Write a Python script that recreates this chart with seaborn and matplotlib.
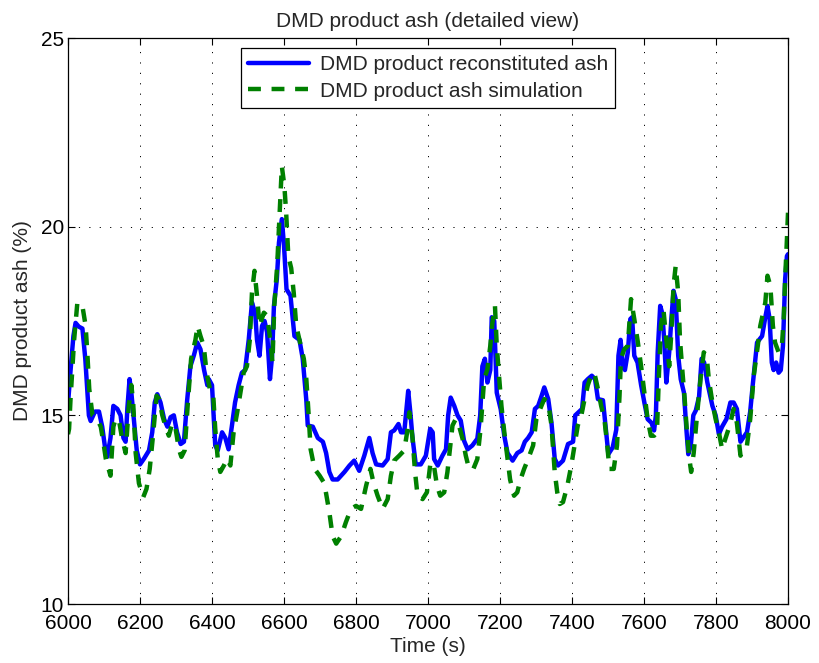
import numpy as np
import pandas as pd
import matplotlib
matplotlib.use("Agg")
import matplotlib.pyplot as plt
import seaborn as sns

# Reconstituted ash (solid blue)
t_recon = [6000, 6008, 6015, 6021, 6030, 6040, 6048, 6054, 6058, 6063, 6075, 6086, 6095, 6105, 6109,
           6118, 6126, 6137, 6146, 6154, 6160, 6165, 6171, 6176, 6183, 6191, 6200, 6211, 6225, 6234,
           6241, 6248, 6257, 6267, 6276, 6285, 6294, 6303, 6313, 6322, 6331, 6340, 6350, 6359, 6368,
           6378, 6387, 6391, 6400, 6409, 6416, 6428, 6437, 6446, 6455, 6464, 6474, 6483, 6492, 6502,
           6511, 6520, 6525, 6532, 6539, 6546, 6553, 6561, 6567, 6572, 6580, 6586, 6594, 6600, 6607,
           6618, 6629, 6643, 6652, 6662, 6666, 6680, 6694, 6708, 6717, 6726, 6735, 6749, 6768, 6782,
           6795, 6809, 6823, 6837, 6846, 6856, 6874, 6888, 6897, 6906, 6918, 6925, 6934, 6941, 6945,
           6951, 6957, 6966, 6980, 6994, 7006, 7013, 7017, 7027, 7040, 7050, 7056, 7063, 7073, 7082,
           7091, 7100, 7110, 7123, 7137, 7145, 7151, 7158, 7165, 7173, 7177, 7184, 7191, 7202, 7212,
           7221, 7235, 7248, 7260, 7269, 7278, 7288, 7297, 7306, 7315, 7323, 7334, 7343, 7352, 7361,
           7375, 7389, 7403, 7409, 7418, 7428, 7435, 7444, 7455, 7464, 7472, 7486, 7495, 7501, 7513,
           7523, 7529, 7535, 7541, 7547, 7555, 7562, 7567, 7573, 7582, 7592, 7601, 7610, 7621, 7628,
           7633, 7638, 7645, 7651, 7656, 7662, 7670, 7676, 7682, 7688, 7695, 7702, 7711, 7718, 7723,
           7730, 7737, 7744, 7753, 7760, 7767, 7776, 7790, 7799, 7808, 7817, 7829, 7840, 7849, 7858,
           7868, 7875, 7886, 7895, 7902, 7914, 7928, 7937, 7943, 7949, 7955, 7960, 7967, 7974, 7980,
           7986, 7992, 7997, 8000]
ash_recon = [15.3, 16.3, 17.1, 17.45, 17.35, 17.3, 16.5, 15.6, 15.0, 14.85, 15.1, 15.1, 14.7, 14.0, 13.9,
             14.4, 15.25, 15.17, 15.0, 14.4, 14.3, 15.2, 15.96, 15.6, 14.9, 14.07, 13.7, 13.85, 14.07, 14.55,
             15.34, 15.56, 15.34, 14.9, 14.7, 14.95, 15.0, 14.55, 14.24, 14.3, 15.4, 16.3, 16.6, 16.93, 16.75,
             16.2, 15.8, 15.96, 15.8, 14.2, 14.07, 14.55, 14.4, 14.1, 14.7, 15.34, 15.8, 16.13, 16.2, 17.0,
             17.99, 17.7, 17.0, 16.58, 17.37, 17.5, 17.2, 15.96, 16.58, 17.9, 18.6, 19.58, 20.2, 19.5, 18.34,
             18.17, 17.1, 17.0, 16.5, 15.4, 14.73, 14.7, 14.4, 14.3, 14.0, 13.5, 13.3, 13.3, 13.5, 13.67,
             13.8, 13.53, 13.93, 14.4, 14.0, 13.7, 13.67, 13.84, 14.55, 14.6, 14.77, 14.55, 14.55, 15.25, 15.65,
             15.07, 14.4, 13.7, 13.7, 13.93, 14.64, 14.55, 13.84, 13.67, 13.93, 14.1, 15.0, 15.47, 15.25, 15.0,
             14.86, 14.33, 14.1, 14.2, 14.38, 15.0, 16.3, 16.5, 15.87, 16.2, 17.6, 17.5, 15.6, 15.16, 14.45,
             14.0, 13.8, 14.0, 14.07, 14.3, 14.4, 14.55, 15.17, 15.25, 15.5, 15.74, 15.43, 14.8, 13.85, 13.67,
             13.8, 14.24, 14.3, 15.0, 15.08, 15.17, 15.87, 15.96, 16.05, 15.96, 15.43, 15.4, 14.55, 13.97, 14.15,
             14.62, 16.58, 17.0, 16.3, 16.2, 16.67, 17.55, 17.6, 16.58, 16.4, 15.8, 15.34, 14.9, 14.8, 14.6,
             15.0, 16.67, 17.9, 17.7, 17.0, 15.87, 16.67, 17.55, 18.3, 18.08, 16.58, 15.96, 15.6, 14.6, 13.97,
             14.2, 15.0, 15.13, 15.5, 16.5, 16.4, 15.87, 15.25, 15.0, 14.5, 14.7, 14.9, 15.34, 15.34, 15.17,
             14.3, 14.4, 14.55, 15.1, 15.8, 16.93, 17.1, 17.6, 17.9, 17.55, 16.4, 16.2, 16.4, 16.13, 16.2,
             16.84, 18.6, 19.22, 19.27]

# Simulated ash (dashed green)
t_sim = [6000, 6003, 6007, 6017, 6026, 6040, 6049, 6054, 6059, 6068, 6081, 6091, 6098, 6105, 6118,
         6126, 6132, 6141, 6150, 6160, 6169, 6176, 6181, 6188, 6197, 6209, 6218, 6227, 6237, 6246,
         6253, 6262, 6271, 6280, 6290, 6299, 6308, 6315, 6324, 6333, 6342, 6354, 6360, 6368, 6377,
         6385, 6394, 6403, 6409, 6416, 6423, 6433, 6442, 6451, 6460, 6470, 6479, 6488, 6497, 6505,
         6511, 6518, 6525, 6532, 6544, 6553, 6562, 6568, 6573, 6581, 6588, 6594, 6601, 6606, 6612,
         6620, 6627, 6634, 6643, 6655, 6662, 6668, 6674, 6685, 6699, 6712, 6726, 6735, 6745, 6759,
         6772, 6786, 6800, 6814, 6828, 6840, 6849, 6860, 6874, 6888, 6897, 6906, 6920, 6934, 6942,
         6948, 6957, 6964, 6971, 6985, 6997, 7006, 7015, 7025, 7034, 7045, 7054, 7062, 7068, 7077,
         7086, 7096, 7105, 7114, 7126, 7137, 7146, 7156, 7165, 7173, 7179, 7186, 7191, 7198, 7204,
         7212, 7219, 7228, 7239, 7248, 7257, 7267, 7278, 7292, 7301, 7315, 7323, 7334, 7343, 7352,
         7359, 7366, 7375, 7387, 7398, 7407, 7416, 7426, 7433, 7444, 7453, 7462, 7472, 7481, 7490,
         7498, 7504, 7516, 7525, 7532, 7536, 7545, 7555, 7564, 7573, 7582, 7592, 7601, 7610, 7619,
         7628, 7636, 7641, 7647, 7654, 7662, 7670, 7676, 7682, 7688, 7695, 7700, 7707, 7713, 7718,
         7725, 7731, 7738, 7748, 7757, 7766, 7774, 7780, 7790, 7799, 7808, 7817, 7826, 7838, 7849,
         7858, 7868, 7877, 7886, 7895, 7905, 7916, 7923, 7937, 7943, 7951, 7958, 7964, 7974, 7983,
         7988, 7992, 7997, 8000]
ash_sim = [14.5, 14.64, 15.43, 17.0, 17.99, 17.9, 17.37, 16.6, 15.7, 15.0, 14.9, 14.7, 14.3, 13.85, 13.4,
           14.7, 14.9, 14.9, 14.4, 14.0, 15.25, 15.8, 15.34, 14.0, 13.2, 12.83, 13.05, 13.58, 14.55, 15.52,
           15.43, 15.0, 14.7, 14.46, 14.8, 14.64, 14.1, 13.9, 14.07, 15.34, 16.5, 17.0, 17.37, 17.1, 16.84,
           16.13, 15.7, 15.6, 14.64, 13.85, 13.5, 13.67, 13.85, 13.67, 14.55, 15.08, 15.6, 16.13, 16.3, 17.0,
           18.25, 18.83, 18.17, 17.37, 17.72, 17.64, 17.0, 16.4, 17.9, 18.96, 20.37, 21.6, 21.08, 20.37, 19.22,
           18.9, 18.25, 17.37, 17.0, 16.5, 15.96, 15.08, 14.1, 13.58, 13.4, 13.2, 12.43, 11.8, 11.6, 11.8,
           12.17, 12.52, 12.6, 12.52, 13.13, 13.58, 13.2, 12.87, 12.52, 12.78, 13.4, 13.8, 13.93, 14.07, 14.55,
           15.08, 14.4, 13.5, 12.87, 12.78, 12.96, 13.67, 13.76, 13.13, 12.87, 12.96, 13.5, 14.2, 14.73, 14.9,
           14.73, 14.38, 13.93, 13.58, 13.58, 13.84, 14.64, 15.96, 16.22, 16.84, 17.46, 17.9, 16.84, 15.96, 15.25,
           14.55, 14.0, 13.3, 12.87, 12.96, 13.3, 13.58, 13.84, 14.2, 14.9, 15.25, 15.43, 15.34, 14.73, 13.5,
           12.96, 12.65, 12.7, 13.13, 13.67, 14.2, 14.73, 15.0, 15.34, 15.8, 16.05, 16.13, 15.7, 15.25, 14.9,
           14.2, 13.58, 13.58, 14.2, 15.52, 16.5, 16.75, 16.84, 18.08, 17.55, 17.0, 16.3, 15.6, 14.9, 14.46,
           14.46, 14.55, 15.96, 17.37, 17.8, 17.0, 16.3, 17.2, 18.43, 18.96, 18.25, 17.0, 16.13, 15.43, 14.73,
           13.93, 13.5, 14.0, 15.08, 15.96, 16.67, 16.58, 15.96, 15.34, 14.9, 14.55, 14.1, 14.38, 14.73, 15.17,
           14.8, 13.93, 14.1, 14.2, 14.9, 16.05, 16.84, 17.37, 17.99, 18.7, 18.43, 17.37, 16.93, 16.67, 16.84,
           17.55, 18.6, 19.66, 20.37]

x_ticks = [6000, 6200, 6400, 6600, 6800, 7000, 7200, 7400, 7600, 7800, 8000]
y_ticks = [10, 15, 20, 25]

recon = pd.DataFrame({"Time (s)": t_recon, "ash": ash_recon})
sim = pd.DataFrame({"Time (s)": t_sim, "ash": ash_sim})

sns.set_style("white")
plt.rcParams["font.family"] = ["Liberation Sans", "DejaVu Sans"]
FS = 15

fig = plt.figure(figsize=(8.19, 6.63), dpi=100)
ax = fig.add_axes([68 / 819, 1 - 604 / 663, 720 / 819, 566 / 663])

sns.lineplot(data=recon, x="Time (s)", y="ash", ax=ax, color=(0, 0, 1), linewidth=3.2,
             estimator=None, sort=False, label="DMD product reconstituted ash")
sns.lineplot(data=sim, x="Time (s)", y="ash", ax=ax, color=(0, 0.5, 0), linewidth=3.2,
             estimator=None, sort=False, label="DMD product ash simulation")
ax.lines[1].set_dashes([2.9, 2.4])

ax.set_xlim(6000, 8000)
ax.set_ylim(10, 25)
ax.set_xticks(x_ticks)
ax.set_yticks(y_ticks)
ax.set_xticklabels([str(v) for v in x_ticks], fontsize=FS)
ax.set_yticklabels([str(v) for v in y_ticks], fontsize=FS)
ax.tick_params(direction="in", length=5, width=0.8, top=True, right=True,
               bottom=True, left=True, colors="black")
ax.tick_params(axis="x", pad=7)
ax.tick_params(axis="y", pad=3)
ax.grid(True, color="black", linestyle=(0, (1.2, 9.5)), linewidth=0.7)

for s in ax.spines.values():
    s.set_visible(True)
    s.set_color("black")
    s.set_linewidth(0.9)

ax.set_xlabel("Time (s)", fontsize=FS, labelpad=3)
ax.set_ylabel("DMD product ash (%)", fontsize=FS, labelpad=6)
ax.set_title("DMD product ash (detailed view)", fontsize=FS, pad=8)

leg = ax.legend(loc="upper center", bbox_to_anchor=(0.5, 0.982), borderaxespad=0,
                fontsize=FS, frameon=True, fancybox=False, framealpha=1, edgecolor="black",
                handlelength=2.95, borderpad=0.35, labelspacing=0.35, handletextpad=0.5)
leg.get_frame().set_linewidth(0.9)

fig.savefig("out.png", dpi=100)
